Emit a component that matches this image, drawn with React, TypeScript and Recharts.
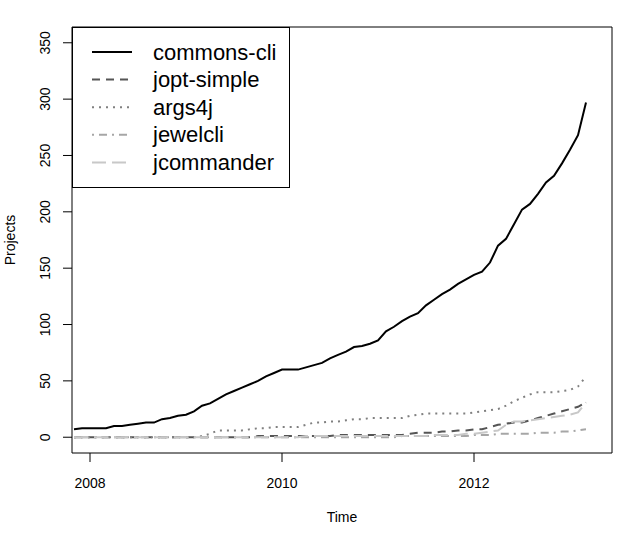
import { LineChart, Line, XAxis, YAxis, Legend, ReferenceArea } from "recharts";

// monthly snapshots, Nov 2007 .. Mar 2013
const months = [
  "2007-11", "2007-12",
  "2008-01", "2008-02", "2008-03", "2008-04", "2008-05", "2008-06", "2008-07", "2008-08", "2008-09", "2008-10", "2008-11", "2008-12",
  "2009-01", "2009-02", "2009-03", "2009-04", "2009-05", "2009-06", "2009-07", "2009-08", "2009-09", "2009-10", "2009-11", "2009-12",
  "2010-01", "2010-02", "2010-03", "2010-04", "2010-05", "2010-06", "2010-07", "2010-08", "2010-09", "2010-10", "2010-11", "2010-12",
  "2011-01", "2011-02", "2011-03", "2011-04", "2011-05", "2011-06", "2011-07", "2011-08", "2011-09", "2011-10", "2011-11", "2011-12",
  "2012-01", "2012-02", "2012-03", "2012-04", "2012-05", "2012-06", "2012-07", "2012-08", "2012-09", "2012-10", "2012-11", "2012-12",
  "2013-01", "2013-02", "2013-03",
];

const commonsCli = [
  7, 8, 8, 8, 8, 10, 10, 11, 12, 13, 13, 16, 17, 19, 20, 23,
  28, 30, 34, 38, 41, 44, 47, 50, 54, 57, 60, 60, 60, 62, 64, 66,
  70, 73, 76, 80, 81, 83, 86, 94, 98, 103, 107, 110, 117, 122, 127, 131,
  136, 140, 144, 147, 155, 170, 176, 189, 202, 207, 216, 226, 232, 243, 255, 268,
  297,
];
const joptSimple = [
  0, 0, 0, 0, 0, 0, 0, 0, 0, 0, 0, 0, 0, 0, 0, 0,
  0, 0, 0, 0, 0, 0, 0, 1, 1, 1, 1, 1, 1, 1, 1, 1,
  1, 2, 2, 2, 2, 2, 2, 2, 2, 2, 3, 4, 4, 4, 5, 5,
  6, 6, 7, 7, 9, 11, 12, 13, 13, 15, 17, 19, 21, 23, 25, 27,
  31,
];
const args4j = [
  0, 0, 0, 0, 0, 0, 0, 0, 0, 0, 0, 0, 0, 0, 0, 0,
  1, 3, 6, 6, 6, 6, 7, 8, 8, 9, 9, 9, 9, 11, 13, 13,
  14, 14, 15, 16, 16, 17, 17, 17, 17, 17, 19, 20, 21, 21, 21, 21,
  21, 21, 22, 23, 24, 25, 28, 32, 35, 38, 40, 40, 40, 41, 42, 45,
  54,
];
const jewelcli = [
  0, 0, 0, 0, 0, 0, 0, 0, 0, 0, 0, 0, 0, 0, 0, 0,
  0, 0, 0, 0, 0, 0, 0, 0, 0, 0, 0, 0, 0, 0, 0, 0,
  0, 0, 0, 0, 0, 0, 0, 0, 0, 1, 1, 1, 1, 1, 1, 1,
  1, 1, 2, 2, 2, 3, 3, 3, 3, 3, 4, 4, 4, 5, 5, 6,
  7,
];
const jcommander = [
  0, 0, 0, 0, 0, 0, 0, 0, 0, 0, 0, 0, 0, 0, 0, 0,
  0, 0, 0, 0, 0, 0, 0, 0, 0, 0, 0, 0, 0, 1, 1, 1,
  1, 1, 1, 1, 1, 1, 1, 1, 1, 1, 1, 1, 1, 2, 2, 2,
  2, 3, 3, 4, 5, 6, 11, 14, 14, 15, 16, 17, 18, 19, 20, 22,
  31,
];

const xTicks = [2008, 2010, 2012];
const yTicks = [0, 50, 100, 150, 200, 250, 300, 350];

const series = [
  { key: "commonsCli", name: "commons-cli", color: "#000000", dash: undefined },
  { key: "joptSimple", name: "jopt-simple", color: "#555555", dash: "8 6" },
  { key: "args4j", name: "args4j", color: "#808080", dash: "2 5" },
  { key: "jewelcli", name: "jewelcli", color: "#a6a6a6", dash: "2 5 8 5" },
  { key: "jcommander", name: "jcommander", color: "#c8c8c8", dash: "14 6" },
];

const toYear = (m: string) => {
  const [y, mo] = m.split("-").map(Number);
  return y + (mo - 1) / 12;
};

const data = months.map((m, i) => ({
  t: toYear(m),
  commonsCli: commonsCli[i],
  joptSimple: joptSimple[i],
  args4j: args4j[i],
  jewelcli: jewelcli[i],
  jcommander: jcommander[i],
}));

const FONT = "'Liberation Sans', Arial, Helvetica, sans-serif";
const X_DOMAIN: [number, number] = [2007.8125, 2013.4375];
const Y_DOMAIN: [number, number] = [-14, 364];

function YTick({ x, y, payload }: any) {
  return (
    <text
      x={x}
      y={y}
      transform={`rotate(-90 ${x} ${y})`}
      textAnchor="middle"
      fontSize={14}
      fontFamily={FONT}
      fill="#000"
    >
      {payload.value}
    </text>
  );
}

function LegendBox() {
  return (
    <svg width={219} height={162} style={{ display: "block" }}>
      <rect x={0.5} y={0.5} width={217} height={160} fill="#fff" stroke="#000" />
      {series.map((s, i) => {
        const cy = 25 + i * 27.6;
        return (
          <g key={s.key}>
            <line x1={20} x2={60} y1={cy} y2={cy} stroke={s.color} strokeWidth={2} strokeDasharray={s.dash} />
            <text x={81} y={cy} dominantBaseline="central" fontSize={22} fontFamily={FONT} fill="#000">
              {s.name}
            </text>
          </g>
        );
      })}
    </svg>
  );
}

export default function App() {
  return (
    <div style={{ position: "absolute", left: 0, top: 0, width: 630, height: 540, background: "#fff" }}>
      <LineChart width={630} height={540} data={data} margin={{ top: 27, right: 18, left: 0, bottom: 0 }}>
        <XAxis
          dataKey="t"
          type="number"
          domain={X_DOMAIN}
          ticks={xTicks}
          allowDataOverflow
          height={87}
          tickSize={9}
          tickMargin={16}
          axisLine={false}
          tickLine={{ stroke: "#000" }}
          tick={{ fontSize: 14, fill: "#000", fontFamily: FONT }}
          label={{ value: "Time", position: "center", dy: 21, fontSize: 14, fill: "#000", fontFamily: FONT }}
        />
        <YAxis
          type="number"
          domain={Y_DOMAIN}
          ticks={yTicks}
          allowDataOverflow
          width={72}
          tickSize={9}
          tickMargin={13}
          axisLine={false}
          tickLine={{ stroke: "#000" }}
          tick={<YTick />}
          label={{ value: "Projects", angle: -90, position: "center", dx: -26, fontSize: 14, fill: "#000", fontFamily: FONT }}
        />
        <ReferenceArea
          x1={X_DOMAIN[0]}
          x2={X_DOMAIN[1]}
          y1={Y_DOMAIN[0]}
          y2={Y_DOMAIN[1]}
          fill="none"
          stroke="#000"
          strokeWidth={1}
          ifOverflow="visible"
        />
        {series.map((s) => (
          <Line
            key={s.key}
            dataKey={s.key}
            name={s.name}
            type="linear"
            stroke={s.color}
            strokeWidth={2}
            strokeDasharray={s.dash}
            dot={false}
            activeDot={false}
            isAnimationActive={false}
          />
        ))}
        <Legend
          layout="vertical"
          align="center"
          verticalAlign="middle"
          content={<LegendBox />}
          wrapperStyle={{ position: "absolute", left: 72, top: 27, width: 219, height: 162 }}
        />
      </LineChart>
    </div>
  );
}
